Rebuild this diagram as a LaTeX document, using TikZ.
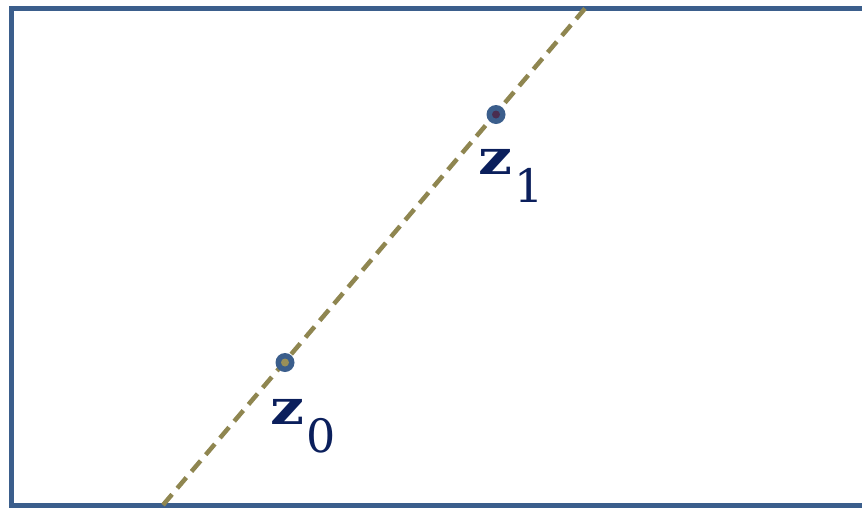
\documentclass[tikz,border=0pt]{standalone}
\usepackage{fontspec}
\setmainfont{DejaVu Serif}
\definecolor{frameblue}{HTML}{3B5E8C}
\definecolor{olive}{HTML}{8F8650}
\definecolor{navy}{HTML}{0B1F5C}
\definecolor{plum}{HTML}{4A2D50}
\definecolor{lightolive}{HTML}{9A9058}
\newcommand{\vecsub}[2]{\scalebox{1.3}[1.05]{\fontsize{46}{50}\selectfont\bfseries #1}\hspace{1.5pt}\raisebox{-28pt}{\fontsize{46}{50}\selectfont\mdseries #2}}
\tikzset{
  frame/.style={draw=frameblue, line width=5pt},
  guide/.style={draw=olive, line width=4.5pt, dash pattern=on 14pt off 8pt},
  ptdot/.style={circle, fill=frameblue, minimum size=19pt, inner sep=0pt},
  ptlabel/.style={text=navy, inner sep=0pt, anchor=base west}
}
\begin{document}
\begin{tikzpicture}[x=1pt,y=-1pt]
\useasboundingbox (0,0) rectangle (862,507);
\clip (0,0) rectangle (862,507);
\draw[frame] (11.5,505) -- (11.5,8.5) -- (900,8.5) -- (900,505) -- cycle;
\coordinate (lo) at (163,505);
\coordinate (hi) at (585,8.5);
\draw[guide] (lo) -- (hi);
\node[ptdot] (z0) at (285,362.5) {};
\fill[lightolive] (z0) circle (4pt);
\node[ptdot] (z1) at (496,114.5) {};
\fill[plum] (z1) circle (4pt);
\node[ptlabel] (l0) at (270.5,424.3) {\vecsub{z}{0}};
\node[ptlabel] (l1) at (478.5,174.3) {\vecsub{z}{1}};
\end{tikzpicture}
\end{document}
